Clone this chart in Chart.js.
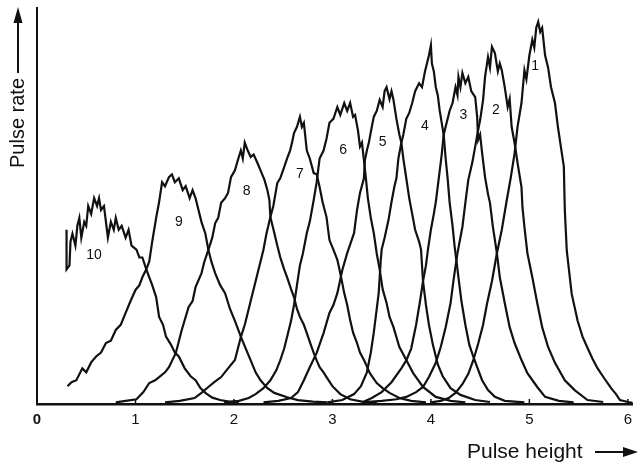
<!DOCTYPE html>
<html>
<head>
<meta charset="utf-8">
<title>Pulse height spectra</title>
<script src="https://cdn.jsdelivr.net/npm/chart.js@4.4.0/dist/chart.umd.min.js"></script>
<style>
    html, body { margin: 0; padding: 0; background: #fff; }
    canvas { display: block; }
</style>
</head>
<body>
<canvas id="pulseChart" width="639" height="468"></canvas>
<script>
// Valeurs : [hauteur d'impulsion, taux relatif 0-100]
const peak1 = [[4.00,0.4],[4.10,0.8],[4.18,1.5],[4.25,2.8],[4.32,5],[4.38,7.6],[4.43,11],[4.48,15.2],[4.53,20],[4.57,25.3],[4.62,31],[4.67,38],[4.72,44],[4.77,51.4],[4.81,57],[4.85,63.3],[4.88,70],[4.92,76],[4.95,84.3],[4.97,82],[5.00,88],[5.03,92],[5.05,90],[5.07,95],[5.09,96.5],[5.11,94],[5.13,95],[5.16,88],[5.19,85],[5.22,80],[5.26,76],[5.29,70],[5.33,63.3],[5.35,60],[5.36,49],[5.38,38.7],[5.43,27.8],[5.49,21],[5.54,17],[5.59,14.2],[5.64,11.5],[5.69,9.1],[5.76,6.5],[5.83,4],[5.88,2.5],[5.92,1],[6.00,0.5],[6.05,0.3]];
const peak2 = [[3.30,0.4],[3.50,0.8],[3.65,1.2],[3.75,1.8],[3.85,3],[3.92,4.3],[3.98,6.8],[4.05,10.4],[4.10,14.4],[4.15,19.4],[4.20,25.5],[4.23,31.3],[4.27,38.1],[4.32,44.7],[4.35,50.8],[4.38,56.6],[4.42,60.9],[4.45,65],[4.48,69.2],[4.50,71.7],[4.53,76.8],[4.55,82.6],[4.58,87.6],[4.60,85],[4.62,90.2],[4.65,88.6],[4.68,84],[4.70,86],[4.72,84.3],[4.75,80],[4.78,75],[4.80,77],[4.82,70],[4.85,65.9],[4.88,60.9],[4.92,54.8],[4.93,49.7],[4.95,44.7],[4.98,38.1],[5.03,32],[5.08,25.5],[5.13,19.4],[5.19,14.4],[5.26,10.4],[5.36,6],[5.46,3.5],[5.59,1],[5.75,0.5]];
const peak3 = [[3.30,0.4],[3.40,1.5],[3.50,3],[3.60,5.5],[3.70,9],[3.75,11],[3.80,14],[3.85,20],[3.89,26],[3.92,31],[3.95,35],[3.97,39],[4.00,44],[4.03,48],[4.05,51],[4.08,57],[4.11,63],[4.13,68],[4.16,71],[4.19,74],[4.22,76],[4.25,80],[4.27,78],[4.28,82.6],[4.30,80],[4.32,83.6],[4.35,81],[4.38,82.6],[4.41,79],[4.45,77.5],[4.47,72.5],[4.48,66.7],[4.50,68],[4.52,63.4],[4.55,57.3],[4.58,53],[4.60,50.8],[4.63,44.7],[4.67,38.1],[4.70,32],[4.75,25.5],[4.80,19.4],[4.85,15.4],[4.92,11.1],[4.98,7.8],[5.08,4.3],[5.16,1.8],[5.30,0.8],[5.45,0.4]];
const peak4 = [[2.95,0.4],[3.10,1],[3.22,2.5],[3.29,4.5],[3.35,8],[3.39,13],[3.42,18],[3.45,24],[3.47,28],[3.48,32],[3.49,36],[3.50,39],[3.53,42],[3.57,46.5],[3.60,51],[3.63,55],[3.65,57],[3.67,62],[3.70,66],[3.72,68],[3.75,72],[3.78,73.5],[3.81,76],[3.84,79],[3.88,81],[3.91,80],[3.94,84],[3.96,86],[3.98,88],[4.00,90.6],[4.01,86],[4.03,84],[4.05,80],[4.07,78],[4.09,74],[4.11,71],[4.13,68],[4.15,62],[4.17,57],[4.19,51],[4.22,45],[4.24,40],[4.26,36],[4.28,32],[4.31,26],[4.35,20],[4.39,15],[4.43,12],[4.47,9.3],[4.52,6],[4.58,3.5],[4.65,1.8],[4.75,0.8],[4.95,0.4]];
const peak5 = [[2.30,0.4],[2.45,0.8],[2.58,1.5],[2.65,3],[2.71,6],[2.77,9.3],[2.84,12.9],[2.91,17.9],[2.97,23],[3.01,25],[3.05,28],[3.10,33.8],[3.15,38.1],[3.19,41],[3.22,43.2],[3.25,49],[3.28,53.3],[3.32,57],[3.33,61.6],[3.35,64],[3.37,66],[3.40,70],[3.42,72.5],[3.45,74],[3.48,76.8],[3.51,75],[3.53,79],[3.55,80],[3.58,77],[3.60,79],[3.62,76.8],[3.65,72],[3.68,68],[3.70,66],[3.72,62],[3.75,57],[3.78,52],[3.81,48],[3.84,44],[3.88,41],[3.90,39],[3.92,31],[3.95,25],[3.98,20],[4.02,15],[4.07,10],[4.12,7],[4.20,4],[4.30,2.3],[4.45,1],[4.60,0.5]];
const peak6 = [[1.90,0.4],[2.05,0.8],[2.15,1.5],[2.22,2.5],[2.30,4],[2.37,6],[2.43,8.5],[2.47,11],[2.51,14],[2.54,17],[2.58,21],[2.61,25],[2.64,30],[2.67,35],[2.70,38],[2.74,43.2],[2.77,46],[2.81,51.5],[2.84,56],[2.87,62],[2.91,64],[2.94,67],[2.97,71],[3.01,72],[3.05,75],[3.08,73],[3.12,76],[3.15,74],[3.18,76],[3.21,72.5],[3.23,73],[3.26,69],[3.28,65],[3.30,66],[3.32,61.6],[3.34,57],[3.36,52],[3.39,47],[3.42,43.2],[3.45,38],[3.48,34],[3.51,29],[3.55,25.5],[3.58,22],[3.62,19.4],[3.68,14.4],[3.75,11.1],[3.82,7.8],[3.92,4.3],[4.05,1.8],[4.20,0.8],[4.35,0.4]];
const peak7 = [[1.30,0.4],[1.45,0.8],[1.60,1.5],[1.67,2.8],[1.74,4.3],[1.80,5.5],[1.87,6.8],[1.94,9],[2.01,11.1],[2.04,14],[2.07,16.9],[2.11,20],[2.14,23],[2.18,27],[2.21,30],[2.24,33],[2.27,36],[2.30,39],[2.33,43],[2.37,47.2],[2.40,50],[2.44,55.8],[2.47,57],[2.51,59.8],[2.54,62],[2.57,64],[2.59,66],[2.61,68.4],[2.64,70],[2.67,72.5],[2.69,70],[2.71,71],[2.74,64],[2.77,62],[2.81,58.3],[2.84,58],[2.87,54.8],[2.90,51],[2.94,47.2],[2.97,41.4],[3.01,39],[3.05,36.4],[3.08,33],[3.12,28],[3.15,25],[3.18,21.2],[3.21,18],[3.25,15.4],[3.28,13],[3.32,11.1],[3.35,9.5],[3.38,7.8],[3.45,5.3],[3.51,4],[3.58,2.8],[3.68,1.5],[3.80,0.8],[3.95,0.4]];
const peak8 = [[0.80,0.4],[0.90,0.8],[1.01,1.2],[1.08,3],[1.14,5.3],[1.20,6],[1.24,6.8],[1.30,8],[1.34,9.3],[1.41,12.9],[1.47,18.7],[1.54,24.5],[1.58,26],[1.61,29.5],[1.67,33],[1.70,36],[1.74,38.9],[1.78,42],[1.81,45.7],[1.84,47],[1.87,50.8],[1.91,52],[1.94,53.3],[1.97,57.3],[2.01,59],[2.04,61.6],[2.07,64],[2.09,62],[2.11,66],[2.14,64],[2.17,62.4],[2.20,63],[2.24,60.8],[2.27,59],[2.31,56.6],[2.34,54],[2.36,51.5],[2.37,47.2],[2.41,43.2],[2.44,40],[2.47,37.1],[2.51,34],[2.54,32],[2.58,29],[2.61,27],[2.64,24],[2.67,22],[2.71,20],[2.74,17.9],[2.78,15],[2.81,12.9],[2.84,11],[2.87,9.3],[2.91,8],[2.94,6.8],[3.00,4.5],[3.08,2.5],[3.18,1.2],[3.30,0.6],[3.45,0.4]];
const peak9 = [[0.31,4.5],[0.35,5.5],[0.40,6],[0.46,9],[0.50,8],[0.55,10.5],[0.60,12],[0.65,13],[0.70,15.4],[0.75,16],[0.80,18.7],[0.85,20],[0.90,23],[0.95,26],[1.00,28.8],[1.04,30],[1.07,32],[1.11,34],[1.14,36],[1.17,41],[1.19,44],[1.21,47],[1.24,51],[1.27,56],[1.30,55],[1.34,57.3],[1.37,58],[1.40,56],[1.44,57],[1.48,54],[1.51,55],[1.55,52],[1.58,54],[1.61,52],[1.64,49],[1.67,46],[1.71,43],[1.74,39],[1.77,36],[1.81,33],[1.86,30],[1.91,28],[1.96,24],[2.01,21],[2.07,17],[2.12,14],[2.17,11],[2.22,8],[2.27,6],[2.34,4],[2.41,2.8],[2.54,1.7],[2.65,1.0],[2.80,0.6],[2.95,0.4]];
const peak10 = [[0.30,44],[0.30,34],[0.33,35],[0.34,41],[0.36,43],[0.39,40],[0.41,45],[0.43,47],[0.45,42],[0.48,46],[0.50,45],[0.52,50],[0.55,48],[0.58,52],[0.61,50],[0.63,52],[0.65,49],[0.68,50],[0.70,46],[0.72,42],[0.75,46],[0.78,44],[0.80,47],[0.83,44],[0.86,45],[0.90,42],[0.93,44],[0.96,40],[1.01,39],[1.04,37],[1.07,37],[1.11,34],[1.14,32],[1.17,30],[1.21,27],[1.24,22],[1.28,20],[1.31,17],[1.36,15],[1.40,13],[1.44,12],[1.50,9],[1.56,7],[1.61,6],[1.66,4],[1.71,2.8],[1.78,1.6],[1.86,1.0],[1.95,0.6],[2.05,0.5]];

const peaks = [peak1, peak2, peak3, peak4, peak5, peak6, peak7, peak8, peak9, peak10];
const peakNames = ['1', '2', '3', '4', '5', '6', '7', '8', '9', '10'];
// Emplacement des numéros (mêmes unités que les données)
const labelX = [5.06, 4.66, 4.33, 3.94, 3.51, 3.11, 2.67, 2.13, 1.44, 0.58];
const labelY = [85.4, 74.2, 73.0, 70.2, 66.2, 64.1, 58.0, 53.8, 46.0, 37.6];
const tickValues = [0, 1, 2, 3, 4, 5, 6];

const ink = '#111';
const fontFamily = '"Liberation Sans", Arial, sans-serif';

const annotate = {
    id: 'annotate',
    afterDraw(chart) {
        const { ctx, scales: { x, y } } = chart;
        ctx.save();
        ctx.fillStyle = ink;
        ctx.strokeStyle = ink;

        // petites graduations vers le haut
        ctx.lineWidth = 1.5;
        tickValues.forEach(v => {
            if (v === 0) return;
            const px = x.getPixelForValue(v);
            ctx.beginPath();
            ctx.moveTo(px, y.bottom);
            ctx.lineTo(px, y.bottom - 5);
            ctx.stroke();
        });

        // numéros des pics
        ctx.font = '14px ' + fontFamily;
        ctx.textAlign = 'center';
        ctx.textBaseline = 'middle';
        peakNames.forEach((name, i) => {
            ctx.fillText(name, x.getPixelForValue(labelX[i]), y.getPixelForValue(labelY[i]));
        });

        // titre axe X avec flèche
        ctx.font = '21px ' + fontFamily;
        ctx.textAlign = 'left';
        ctx.fillText('Pulse height', 467, 452);
        ctx.lineWidth = 2;
        ctx.beginPath();
        ctx.moveTo(595, 452);
        ctx.lineTo(626, 452);
        ctx.stroke();
        ctx.beginPath();
        ctx.moveTo(638, 452);
        ctx.lineTo(623, 447);
        ctx.lineTo(623, 457);
        ctx.closePath();
        ctx.fill();

        // titre axe Y avec flèche
        ctx.save();
        ctx.translate(18, 168);
        ctx.rotate(-Math.PI / 2);
        ctx.font = '20px ' + fontFamily;
        ctx.textAlign = 'left';
        ctx.fillText('Pulse rate', 0, 0);
        ctx.restore();
        ctx.beginPath();
        ctx.moveTo(18, 73);
        ctx.lineTo(18, 20);
        ctx.stroke();
        ctx.beginPath();
        ctx.moveTo(18, 7);
        ctx.lineTo(13.5, 23);
        ctx.lineTo(22.5, 23);
        ctx.closePath();
        ctx.fill();

        ctx.restore();
    }
};

new Chart(document.getElementById('pulseChart'), {
    type: 'line',
    data: {
        datasets: peaks.map((pts, i) => ({
            label: peakNames[i],
            data: pts.map(([px, py]) => ({ x: px, y: py })),
            borderColor: ink,
            borderWidth: 2.2,
            pointRadius: 0,
            tension: 0,
            fill: false
        }))
    },
    options: {
        responsive: false,
        animation: false,
        layout: { padding: { top: 8, left: 0, right: 0, bottom: 0 } },
        plugins: {
            legend: { display: false },
            tooltip: { enabled: false }
        },
        scales: {
            x: {
                type: 'linear',
                min: 0,
                max: 6.05,
                afterFit: s => { s.height = 64; },
                afterBuildTicks: s => { s.ticks = tickValues.map(v => ({ value: v })); },
                grid: { display: false, drawTicks: false },
                border: { display: true, color: ink, width: 2.5 },
                ticks: {
                    padding: 7,
                    color: ink,
                    autoSkip: false,
                    maxRotation: 0,
                    font: ctx => ({
                        family: fontFamily,
                        size: 15,
                        weight: ctx.tick && ctx.tick.value === 0 ? 'bold' : 'normal'
                    })
                }
            },
            y: {
                min: 0,
                max: 100,
                afterFit: s => { s.width = 37; },
                grid: { display: false, drawTicks: false },
                border: { display: true, color: ink, width: 2 },
                ticks: { display: false }
            }
        }
    },
    plugins: [annotate]
});
</script>
</body>
</html>
